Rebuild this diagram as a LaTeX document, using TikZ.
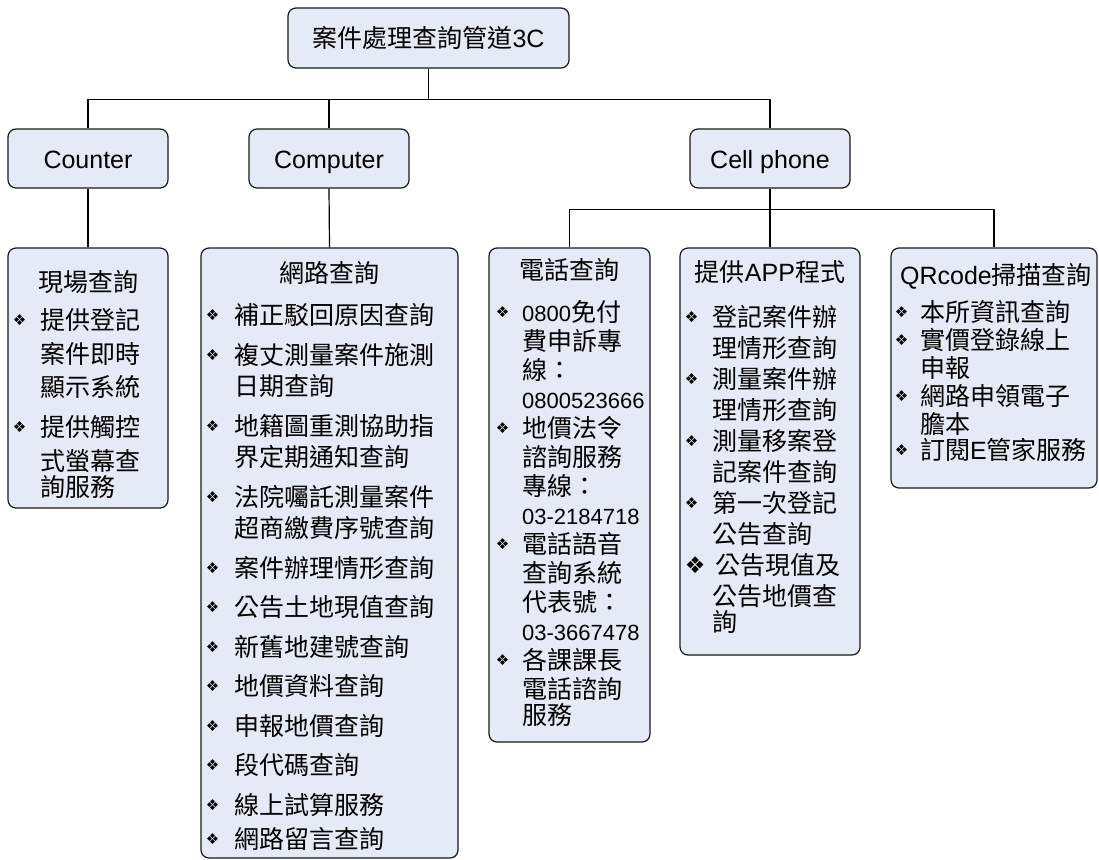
\documentclass[tikz,border=0pt]{standalone}
\usepackage{fontspec}
\setmainfont{Noto Sans CJK TC}
\newfontfamily\lat{Liberation Sans}
\newfontfamily\symf{DejaVu Sans}
\definecolor{boxfill}{RGB}{229,235,246}
\definecolor{boxline}{RGB}{25,25,25}
\newlength\bw
\newcommand\bul{\raisebox{4pt}{\symf\fontsize{15}{15}\selectfont ❖}}
\newcommand\bigbul{\raisebox{1.5pt}{\symf\fontsize{23}{23}\selectfont ❖}}
\newcommand\stru{\rule{0pt}{23pt}}
\newcommand\BI[1][\bul]{\noindent\stru\makebox[\bw][l]{#1}}
\newcommand\CI{\noindent\stru\hspace*{\bw}}
\newcommand\numf[1]{{\lat\fontsize{22}{22}\selectfont #1}}
\begin{document}
\begin{tikzpicture}[x=1pt,y=-1pt,
  box/.style={draw=boxline, line width=1.2pt, fill=boxfill, rounded corners=8pt, inner sep=0pt},
  ttl/.style={font=\fontsize{25}{30}\selectfont, text height=21pt, text depth=2pt, inner sep=0pt},
  lst/.style={anchor=north west, inner sep=0pt, align=left},
  conn/.style={line width=1.2pt, draw=black}]
\useasboundingbox (0,0) rectangle (1099,859);
\fill[white] (0,0) rectangle (1099,859);

% top level
\node[box, ttl, minimum width=281, minimum height=60] (root) at (428.5,38) {案件處理查詢管道{\lat 3C}};
\node[box, ttl, minimum width=160, minimum height=59] (counter) at (88,158.5) {\lat Counter};
\node[box, ttl, minimum width=160, minimum height=59] (computer) at (329,158.5) {\lat Computer};
\node[box, ttl, minimum width=160, minimum height=59] (cell) at (770,158.5) {\lat Cell phone};

% leaf boxes
\node[box, minimum width=160, minimum height=260] (counterleaf) at (88,378) {};
\node[box, minimum width=257, minimum height=610] (computerleaf) at (329.5,553) {};
\node[box, minimum width=161, minimum height=494] (phoneleaf) at (569.5,495) {};
\node[box, minimum width=180, minimum height=407] (appleaf) at (770,451.5) {};
\node[box, minimum width=206, minimum height=240] (qrleaf) at (994,368) {};

% titles
\node[ttl] (countertitle) at (88,282) {現場查詢};
\node[ttl] (computertitle) at (329.5,273) {網路查詢};
\node[ttl] (phonetitle) at (569.5,270) {電話查詢};
\node[ttl] (apptitle) at (770,272) {提供{\lat APP}程式};
\node[ttl] (qrtitle) at (996,275) {{\lat QRcode}掃描查詢};

% lists
\node[lst, text width=145] (counterlist) at (12.7,306.5) {\fontsize{25}{33.5}\selectfont\setlength\bw{27.3pt}%
\BI 提供登記\\
\CI 案件即時\\
\CI 顯示系統\\[6.5pt]
\BI 提供觸控\\
\CI 式螢幕查\\
\CI 詢服務};

\node[lst, text width=248] (computerlist) at (205.7,301.5) {\fontsize{25}{31.5}\selectfont\setlength\bw{28.3pt}%
\BI 補正駁回原因查詢\\[8pt]
\BI 複丈測量案件施測\\
\CI 日期查詢\\[8pt]
\BI 地籍圖重測協助指\\
\CI 界定期通知查詢\\[8pt]
\BI 法院囑託測量案件\\
\CI 超商繳費序號查詢\\[8pt]
\BI 案件辦理情形查詢\\[8pt]
\BI 公告土地現值查詢\\[8pt]
\BI 新舊地建號查詢\\[8pt]
\BI 地價資料查詢\\[8pt]
\BI 申報地價查詢\\[8pt]
\BI 段代碼查詢\\[8pt]
\BI 線上試算服務\\[8pt]
\BI 網路留言查詢};

\node[lst, text width=152] (phonelist) at (495.7,298.5) {\fontsize{25}{29}\selectfont\setlength\bw{26.3pt}%
\BI \numf{0800}免付\\
\CI 費申訴專\\
\CI 線：\\
\CI \numf{0800523666}\\
\BI 地價法令\\
\CI 諮詢服務\\
\CI 專線：\\
\CI \numf{03-2184718}\\
\BI 電話語音\\
\CI 查詢系統\\
\CI 代表號：\\
\CI \numf{03-3667478}\\
\BI 各課課長\\
\CI 電話諮詢\\
\CI 服務};

\node[lst, text width=172] (applist) at (684.7,303.5) {\fontsize{25}{31}\selectfont\setlength\bw{27.3pt}%
\BI 登記案件辦\\
\CI 理情形查詢\\
\BI 測量案件辦\\
\CI 理情形查詢\\
\BI 測量移案登\\
\CI 記案件查詢\\
\BI 第一次登記\\
\CI 公告查詢\\
\BI[\bigbul] 公告現值及\\
\CI 公告地價查\\
\CI 詢};

\node[lst, text width=202] (qrlist) at (894.7,298.5) {\fontsize{25}{28}\selectfont\setlength\bw{25.3pt}%
\BI 本所資訊查詢\\
\BI 實價登錄線上\\
\CI 申報\\
\BI 網路申領電子\\
\CI 膽本\\
\BI 訂閱{\lat E}管家服務};

% connectors
\draw[conn] (root.south) -- ++(0,31) -| (counter.north);
\draw[conn] (root.south) -- ++(0,31) -| (computer.north);
\draw[conn] (root.south) -- ++(0,31) -| (cell.north);
\draw[conn] (counter.south) -- (counterleaf.north);
\draw[conn] (computer.south) -- (computerleaf.north);
\draw[conn] (cell.south) -- ++(0,21) -| (phoneleaf.north);
\draw[conn] (cell.south) -- ++(0,21) -| (appleaf.north);
\draw[conn] (cell.south) -- ++(0,21) -| (qrleaf.north);
\end{tikzpicture}
\end{document}
